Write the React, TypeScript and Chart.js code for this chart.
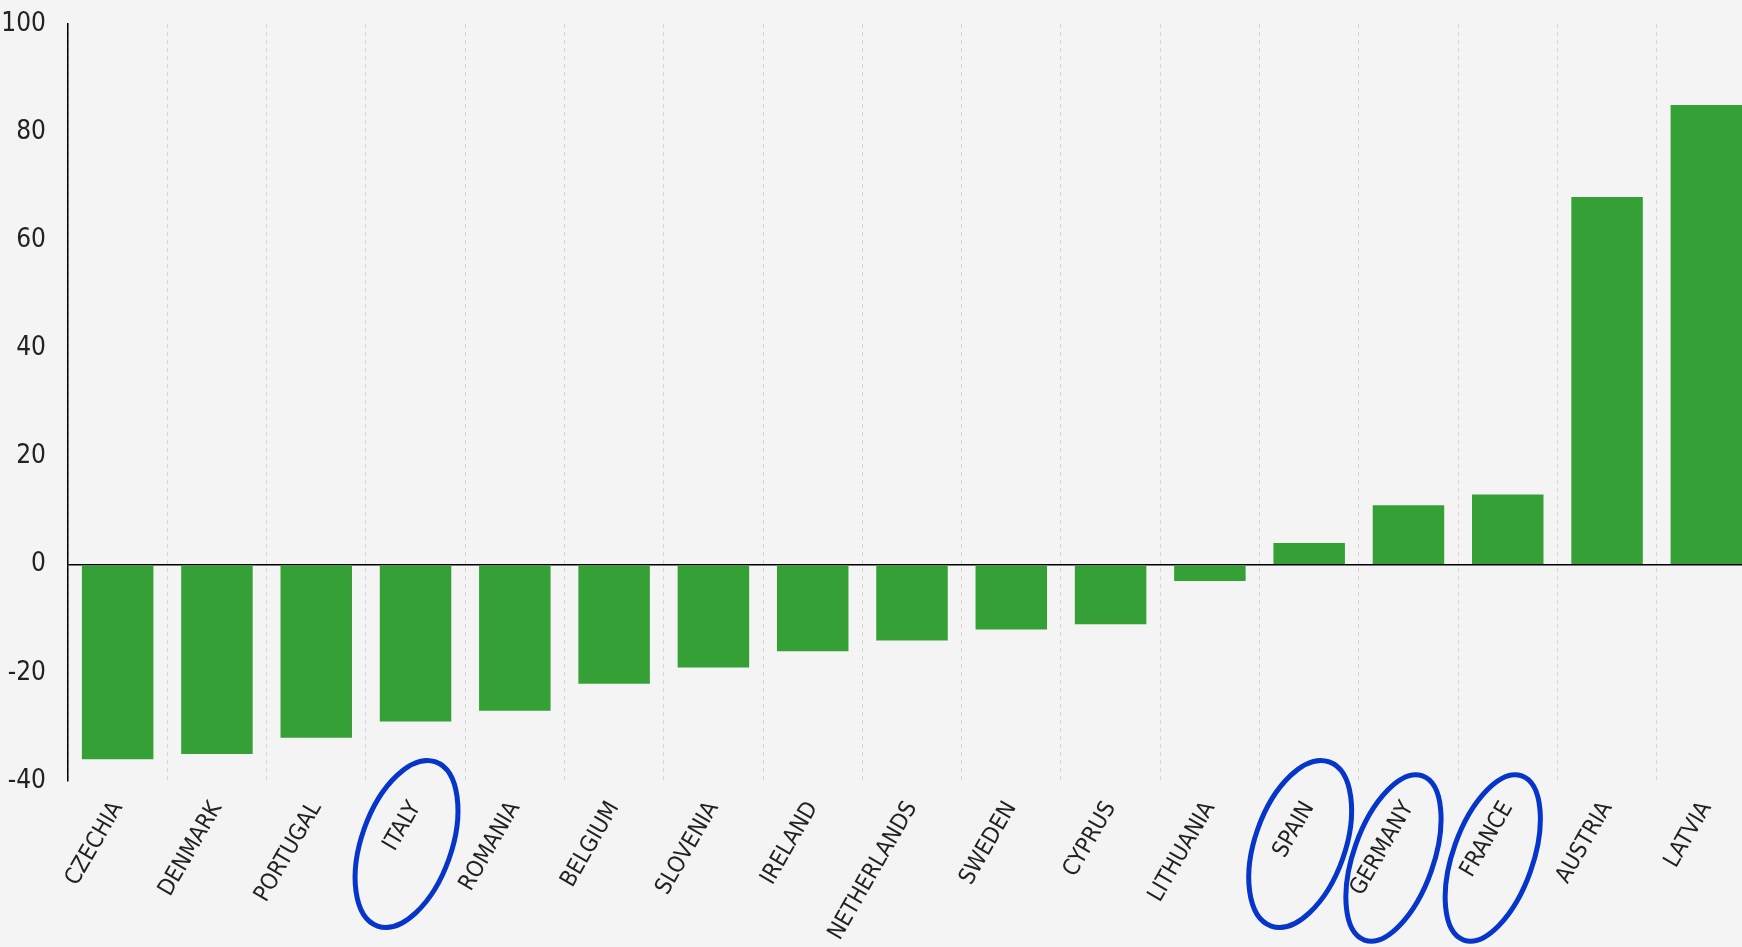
import React, { useEffect, useRef } from "react";
import { Chart, registerables } from "chart.js";

Chart.register(...registerables);

const categories = [
  "CZECHIA", "DENMARK", "PORTUGAL", "ITALY", "ROMANIA", "BELGIUM", "SLOVENIA",
  "IRELAND", "NETHERLANDS", "SWEDEN", "CYPRUS", "LITHUANIA", "SPAIN", "GERMANY",
  "FRANCE", "AUSTRIA", "LATVIA",
];
const values = [-36, -35, -32, -29, -27, -22, -19, -16, -14, -12, -11, -3, 4, 11, 13, 68, 85];
const highlighted = ["ITALY", "SPAIN", "GERMANY", "FRANCE"];

const BAR_COLOR = "#35a035";
const RING_COLOR = "#0535c9";
const FONT = "'Liberation Sans Narrow', 'DejaVu Sans Condensed', 'Noto Sans', sans-serif";

const ringPlugin = {
  id: "rings",
  afterDraw(chart: any) {
    const ctx = chart.ctx;
    const xs = chart.scales.x;
    const base = chart.chartArea.bottom;
    ctx.save();
    ctx.strokeStyle = RING_COLOR;
    ctx.lineWidth = 5;
    highlighted.forEach((name) => {
      const idx = categories.indexOf(name);
      if (idx < 0) return;
      const long = name.length > 5;
      const cx = xs.getPixelForValue(idx) - (long ? 15 : 9);
      const cy = base + (long ? 77 : 63);
      ctx.beginPath();
      ctx.ellipse(cx, cy, long ? 40 : 45, 87, 0.34, 0, Math.PI * 2);
      ctx.stroke();
    });
    ctx.restore();
  },
};

export default function App() {
  const ref = useRef<HTMLCanvasElement | null>(null);

  useEffect(() => {
    document.body.style.margin = "0";
    const canvas = ref.current;
    if (!canvas) return;
    const chart = new Chart(canvas, {
      type: "bar",
      data: {
        labels: categories,
        datasets: [
          {
            data: values,
            backgroundColor: BAR_COLOR,
            borderWidth: 0,
            barPercentage: 0.72,
            categoryPercentage: 1,
          },
        ],
      },
      options: {
        animation: false,
        responsive: true,
        maintainAspectRatio: false,
        layout: { padding: { top: 0, right: 0, left: 0, bottom: 0 } },
        plugins: {
          legend: { display: false },
          tooltip: { enabled: false },
        },
        scales: {
          x: {
            offset: true,
            grid: {
              offset: true,
              color: "#d6d6d6",
              lineWidth: 1,
              drawTicks: false,
            },
            border: { display: false, dash: [4, 4] },
            ticks: {
              autoSkip: false,
              maxRotation: 60,
              minRotation: 60,
              padding: 16,
              color: "#222",
              font: { family: FONT, size: 23 },
            },
            afterFit(scale: any) {
              scale.height = 166;
            },
          },
          y: {
            min: -40,
            max: 100,
            ticks: {
              stepSize: 20,
              padding: 22,
              color: "#222",
              font: { family: FONT, size: 26 },
            },
            grid: {
              drawTicks: false,
              color: (c: any) => (c.tick && c.tick.value === 0 ? "#000" : "rgba(0,0,0,0)"),
              lineWidth: 1.5,
            },
            border: { display: true, color: "#000", width: 1.5 },
            afterFit(scale: any) {
              scale.width = 68;
              scale.paddingTop = 24;
              scale.paddingBottom = 0;
            },
          },
        },
      },
      plugins: [ringPlugin],
    });
    return () => chart.destroy();
  }, []);

  return (
    <div
      style={{
        position: "absolute",
        left: 0,
        top: 0,
        width: 1742,
        height: 947,
        overflow: "hidden",
        background: "#f4f4f4",
      }}
    >
      <div style={{ position: "relative", width: 1756, height: 947 }}>
        <canvas ref={ref} />
      </div>
    </div>
  );
}
